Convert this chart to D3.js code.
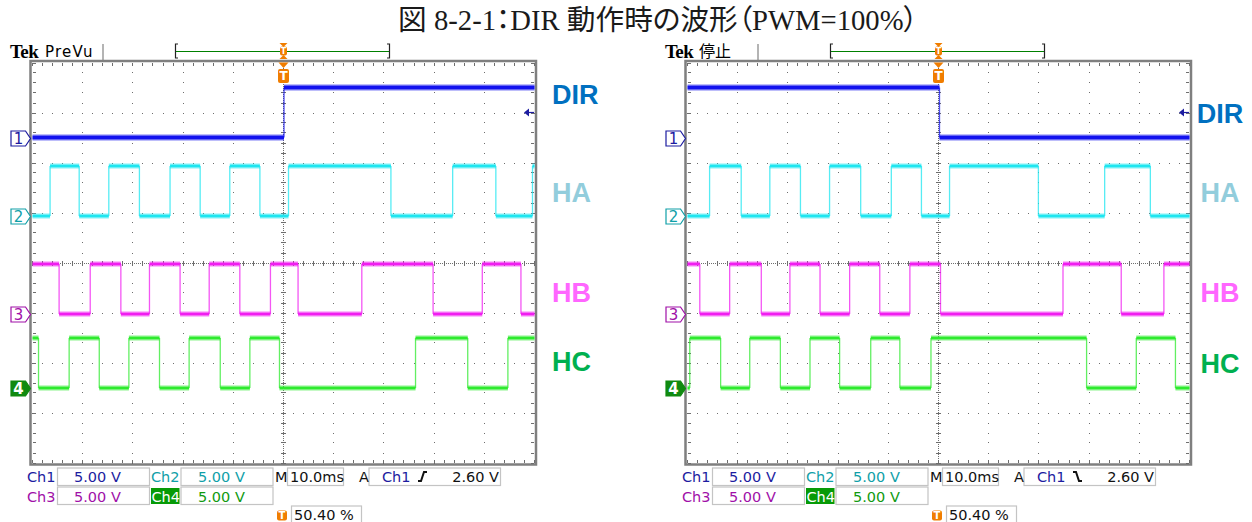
<!DOCTYPE html>
<meta charset="utf-8">
<script src="https://d3js.org/d3.v7.min.js"></script>
<style>
  body { margin: 0; background: #fff; }
  svg { display: block; }
  .stat { font-family: 'DejaVu Sans', sans-serif; font-size: 14.5px; }
  .lbl { font-family: 'Liberation Sans', Arial, sans-serif; font-weight: bold; font-size: 27px; }
</style>
<body>
<svg width="1252" height="522"></svg>
<script>
// ---- values (time in ms from left edge, 10 ms/div)
var title = "図 8-2-1：DIR 動作時の波形（PWM=100%）";
var signals = ["DIR", "HA", "HB", "HC"];
var chOffset = [2.51, 0.94, -1.02, -2.5];   // ground marker, divisions above centre
var highVolts = [5, 5, 5, 5];
var voltsPerDiv = 5;
var trigLevel = 2.6;
var chLabels = ["Ch1", "Ch2", "Ch3", "Ch4"];
var chScale = ["5.00 V", "5.00 V", "5.00 V", "5.00 V"];
var timeBase = "10.0ms";
var trigText = "2.60 V";
var trigPos = "50.40 %";

var leftStart = [0, 0, 1, 1];
var leftDirEdges = [50.1];
var leftHaEdges = [3.5, 9.3, 15.2, 21.3, 27.4, 33.4, 39.3, 45.3, 51.0, 71.4, 83.7, 92.3, 99.6];
var leftHbEdges = [5.3, 11.5, 17.6, 23.3, 29.4, 35.2, 41.3, 47.4, 52.9, 65.6, 79.8, 89.6, 97.3];
var leftHcEdges = [1.2, 7.3, 13.3, 19.2, 25.3, 31.2, 37.4, 43.3, 49.2, 76.3, 86.7, 94.7];

var rightStart = [1, 0, 1, 0];
var rightDirEdges = [50.2];
var rightHaEdges = [4.4, 10.7, 16.4, 22.5, 28.3, 34.5, 40.6, 46.6, 52.2, 69.9, 83.1, 92.2];
var rightHbEdges = [2.45, 8.4, 14.7, 20.4, 26.4, 32.3, 38.3, 44.3, 50.4, 74.8, 86.4, 94.9];
var rightHcEdges = [0.45, 6.6, 12.4, 18.5, 24.4, 30.3, 36.5, 42.3, 48.5, 79.5, 89.4, 97.2];

// ---- styling
var traceColor = ["#1212ee", "#1ee6f0", "#f01ef0", "#2eea2e"];
var traceWidth = [4, 3, 3, 3];
var markColor = ["#1c1ca0", "#10a0a8", "#a010a8", "#108a10"];
var textColor = ["#1c1ca0", "#10a0a8", "#a010a8", "#109a10"];
var labelColor = ["#0070c0", "#92cddc", "#ff66ff", "#00b050"];
var orange = "#f07d00";
var gridColor = "#6e6e6e";

var svg = d3.select("svg");

// title
var t = svg.append("text")
    .attr("x", 658).attr("y", 30)
    .attr("text-anchor", "middle")
    .attr("fill", "#1a1a1a")
    .style("font-family", "'Liberation Serif', 'Noto Sans CJK JP', serif")
    .style("font-feature-settings", "'palt'")
    .style("font-size", "25px")
    .text(title);
var tw = t.node().getComputedTextLength();
t.style("font-size", (25 * 520 / tw) + "px");

function stepPoints(start, edges) {
  var pts = [[0, start]], lv = start;
  edges.forEach(function(e) { pts.push([e, lv]); lv = 1 - lv; pts.push([e, lv]); });
  pts.push([100, lv]);
  return pts;
}

function tMarker(g, cx, cy, w, h, fs) {
  g.append("rect").attr("x", cx - w / 2).attr("y", cy - h / 2).attr("width", w).attr("height", h)
    .attr("rx", 2).attr("fill", orange);
  g.append("text").attr("x", cx).attr("y", cy + fs * 0.36).attr("text-anchor", "middle")
    .attr("fill", "#fff").style("font-family", "'DejaVu Sans', sans-serif")
    .style("font-weight", "bold").style("font-size", fs + "px").text("T");
}

function drawScope(g, sc) {
  var x = d3.scaleLinear().domain([0, 100]).range([32.5, 534.5]);
  var y = d3.scaleLinear().domain([-4, 4]).range([463, 63]);

  // header
  g.append("text").attr("x", 10).attr("y", 57.5)
    .style("font-family", "'Liberation Serif', serif").style("font-weight", "bold")
    .style("font-size", "19px").style("letter-spacing", "-0.6px").text("Tek");
  g.append("text").attr("x", sc.modeX).attr("y", 57)
    .style("font-family", sc.modeFont).style("font-size", sc.modeSize)
    .style("letter-spacing", sc.modeSpacing).text(sc.mode);
  g.append("rect").attr("x", 102).attr("y", 44).attr("width", 2).attr("height", 16).attr("fill", "#b4b4b4");
  g.append("path").attr("d", "M178,44H175.5V58H178M387,44H389.5V58H387")
    .attr("fill", "none").attr("stroke", "#222").attr("stroke-width", 1.2);
  g.append("path").attr("d", "M176,51.5H389").attr("stroke", "#008000").attr("stroke-width", 1.2);
  g.append("path").attr("d", "M279.5,43H287.5L283.5,47ZM279.5,59H287.5L283.5,55Z").attr("fill", orange);
  tMarker(g, 283.5, 51, 7, 9, 8);

  // frame
  g.append("rect").attr("x", 30.5).attr("y", 61).attr("width", 505.5).attr("height", 403.5)
    .attr("fill", "#fff").attr("stroke", "#7f7f7f").attr("stroke-width", 2.5);

  // grid dots
  var dots = [];
  var yDots = d3.range(-4, 4.001, 0.2).map(y);
  var xDots = d3.range(0, 100.001, 2).map(x);
  d3.range(1, 10).forEach(function(i) {
    if (i === 5) return;
    yDots.forEach(function(py) { dots.push([Math.floor(x(i * 10)), Math.floor(py)]); });
  });
  d3.range(-3, 4).forEach(function(j) {
    if (j === 0) return;
    xDots.forEach(function(px) { dots.push([Math.floor(px), Math.floor(y(j))]); });
  });
  var cx = Math.floor(x(50)), cy = Math.floor(y(0));
  d3.range(64, 463, 2).forEach(function(py) { dots.push([cx, py]); });
  d3.range(34, 534, 2).forEach(function(px) { dots.push([px, cy]); });
  g.append("g").selectAll("rect").data(dots).join("rect")
    .attr("x", function(d) { return d[0]; }).attr("y", function(d) { return d[1]; })
    .attr("width", 1).attr("height", 1).attr("fill", gridColor);

  // ticks on centre lines and edges
  var tk = "";
  xDots.forEach(function(px) {
    var p = Math.floor(px) + 0.5;
    tk += "M" + p + "," + (cy - 2) + "v5";
    tk += "M" + p + ",63v3M" + p + ",460v3";
  });
  yDots.forEach(function(py) {
    var p = Math.floor(py) + 0.5;
    tk += "M" + (cx - 2) + "," + p + "h5";
    tk += "M33," + p + "h3M531," + p + "h3";
  });
  g.append("path").attr("d", tk).attr("stroke", gridColor).attr("stroke-width", 1).attr("fill", "none");

  // traces
  var tr = g.append("g");
  sc.edges.forEach(function(edges, k) {
    var pts = stepPoints(sc.start[k], edges);
    var py = function(lv) { return y(chOffset[k] + lv * highVolts[k] / voltsPerDiv); };
    var segs = [], verts = [];
    for (var i = 0; i < pts.length; i += 2) segs.push([pts[i], pts[i + 1]]);
    for (var i = 1; i < pts.length - 1; i += 2) verts.push([pts[i], pts[i + 1]]);
    var line = d3.line().x(function(d) { return x(d[0]); }).y(function(d) { return py(d[1]); });
    tr.append("g").selectAll("path").data(verts).join("path")
      .attr("d", line).attr("stroke", traceColor[k]).attr("stroke-width", 1.3)
      .attr("stroke-opacity", 0.75).attr("fill", "none");
    tr.append("g").selectAll("path").data(segs).join("path")
      .attr("d", line).attr("stroke", traceColor[k]).attr("stroke-width", traceWidth[k] + 3)
      .attr("stroke-opacity", 0.28).attr("fill", "none");
    tr.append("g").selectAll("path").data(segs).join("path")
      .attr("d", line).attr("stroke", traceColor[k]).attr("stroke-width", traceWidth[k])
      .attr("fill", "none");
  });

  // trigger position marker
  g.append("path").attr("d", "M278.5,62.5H288.5L283.5,68Z").attr("fill", orange);
  tMarker(g, 283.5, 76, 11, 14, 12);

  // trigger level arrow
  var ty = Math.round(y(chOffset[0] + trigLevel / voltsPerDiv)) + 0.5;
  g.append("path").attr("d", "M524," + ty + "L529," + (ty - 4) + "V" + (ty + 4) + "Z").attr("fill", markColor[0]);
  g.append("path").attr("d", "M528," + ty + "H534").attr("stroke", markColor[0]).attr("stroke-width", 1.2);

  // channel ground markers
  chOffset.forEach(function(o, k) {
    var gy = Math.round(y(o)) + 0.5;
    g.append("path").attr("d", "M11," + (gy - 7.5) + "H25.5L30.5," + gy + "L25.5," + (gy + 7.5) + "H11Z")
      .attr("fill", k === 3 ? markColor[k] : "#fff").attr("stroke", markColor[k]).attr("stroke-width", 1.2);
    g.append("text").attr("x", 18.5).attr("y", gy + 5.5).attr("text-anchor", "middle")
      .attr("fill", k === 3 ? "#fff" : markColor[k])
      .style("font-family", "'DejaVu Sans', sans-serif").style("font-size", "15px")
      .style("font-weight", k === 3 ? "bold" : "normal").text(k + 1);
  });

  // signal names
  signals.forEach(function(s, k) {
    g.append("text").attr("class", "lbl").attr("x", sc.labelX).attr("y", sc.labelY[k])
      .attr("text-anchor", sc.labelAnchor).attr("fill", labelColor[k]).text(s);
  });

  // status boxes
  var st = g.append("g").attr("class", "stat");
  function box(x0, x1, y0, y1) {
    st.append("rect").attr("x", x0).attr("y", y0).attr("width", x1 - x0).attr("height", y1 - y0)
      .attr("fill", "#fff").attr("stroke", "#c4c4c4").attr("stroke-width", 1.2);
  }
  function txt(px, py, s, c, anchor) {
    st.append("text").attr("x", px).attr("y", py).attr("fill", c)
      .attr("text-anchor", anchor || "start").text(s);
  }
  box(57.5, 149.5, 468, 485.5); box(181, 273, 468, 485.5);
  box(287.5, 343.5, 468, 485.5); box(369, 500.5, 468, 485.5);
  box(57.5, 149.5, 487, 504.5); box(181, 273, 487, 504.5);
  box(291.5, 361.5, 506, 524);
  txt(27, 482, chLabels[0], textColor[0]); txt(74, 482, chScale[0], textColor[0]);
  txt(151, 482, chLabels[1], textColor[1]); txt(198, 482, chScale[1], textColor[1]);
  txt(275, 482, "M", "#111"); txt(290, 482, timeBase, "#111");
  txt(359, 482, "A", "#111"); txt(382, 482, chLabels[0], textColor[0]);
  st.append("path").attr("d", sc.edgeSym).attr("fill", "none").attr("stroke", "#111").attr("stroke-width", 2);
  txt(499, 482, trigText, "#111", "end");
  txt(27, 501.5, chLabels[2], textColor[2]); txt(74, 501.5, chScale[2], textColor[2]);
  st.append("rect").attr("x", 151).attr("y", 488).attr("width", 28.5).attr("height", 16).attr("fill", "#079a07");
  txt(151.5, 501.5, chLabels[3], "#fff"); txt(198, 501.5, chScale[3], textColor[3]);
  tMarker(st, 282, 515.5, 10, 10, 10);
  txt(294, 520, trigPos, "#111");
}

drawScope(svg.append("g"), {
  start: leftStart,
  edges: [leftDirEdges, leftHaEdges, leftHbEdges, leftHcEdges],
  mode: "PreVu", modeX: 45, modeFont: "'DejaVu Sans', sans-serif", modeSize: "15px", modeSpacing: "1.2px",
  labelX: 552, labelAnchor: "start", labelY: [104, 202, 302, 371],
  edgeSym: "M418,481H421L424,472H427"
});

drawScope(svg.append("g").attr("transform", "translate(655,0)"), {
  start: rightStart,
  edges: [rightDirEdges, rightHaEdges, rightHbEdges, rightHcEdges],
  mode: "停止", modeX: 44, modeFont: "'Noto Sans CJK JP', sans-serif", modeSize: "16px", modeSpacing: "0px",
  labelX: 565, labelAnchor: "middle", labelY: [123, 201.5, 301.5, 373],
  edgeSym: "M418,472H421L424,481H427"
});
</script>
</body>
